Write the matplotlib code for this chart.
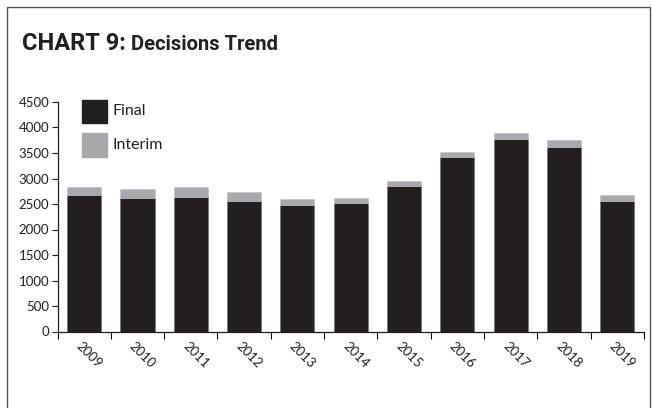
import numpy as np
import matplotlib.pyplot as plt
from matplotlib.patches import Rectangle
import matplotlib.transforms as mtransforms

plt.rcParams['font.family'] = ['Lato', 'DejaVu Sans']

years = ['2009', '2010', '2011', '2012', '2013', '2014', '2015', '2016', '2017', '2018', '2019']
final = [2680, 2627, 2647, 2555, 2476, 2529, 2849, 3419, 3773, 3616, 2555]
interim = [144, 158, 177, 176, 131, 98, 106, 106, 125, 131, 125]

c_final = '#231f20'
c_interim = '#a7a9ac'

W, H = 654, 408
fig = plt.figure(figsize=(W / 100, H / 100), dpi=100)

# outer frame (bottom edge runs off the page)
fig.patches.append(Rectangle((7 / W, -0.05), 643 / W, 1.05 - 7 / H, transform=fig.transFigure,
                             fill=False, edgecolor='#555555', linewidth=1.0))

# title in two parts, second part placed right after the first
t1 = fig.text(22 / W, 1 - 43 / H, 'CHART 9:', fontsize=17, fontweight='bold', family='Roboto',
              va='center', ha='left', color='#231f20')
fig.canvas.draw()
bb = t1.get_window_extent()
fig.text((bb.x1 + 5) / W, 1 - 44 / H, 'Decisions Trend', fontsize=14.5, fontweight='bold',
         family='Roboto', va='center', ha='left', color='#231f20')

ax = fig.add_axes([57.5 / W, 1 - 331.5 / H, (644 - 57.5) / W, (331.5 - 102) / H])
x = np.arange(len(years))
ax.bar(x, final, width=0.64, color=c_final, edgecolor='#6d6e71', linewidth=0.4, label='Final')
ax.bar(x, interim, bottom=final, width=0.64, color=c_interim, edgecolor='#bcbec0', linewidth=0.4,
       label='Interim')

ax.set_xlim(-0.5, len(years) - 0.5)
ax.set_ylim(0, 4500)
ax.set_yticks(np.arange(0, 4501, 500))
ax.tick_params(axis='y', direction='out', length=4, width=0.8, labelsize=9.5, pad=2, colors='#231f20')

# tick marks between categories, labels under each bar
ax.set_xticks(np.arange(-0.5, len(years), 1.0))
ax.set_xticklabels([])
ax.tick_params(axis='x', which='major', direction='out', length=5, width=0.8)
ax.set_xticks(x, minor=True)
ax.set_xticklabels(years, minor=True, rotation=-45, ha='center', va='top', fontsize=9.5, color='#231f20')
ax.tick_params(axis='x', which='minor', length=0, pad=6)
offset = mtransforms.ScaledTranslation(5 / 100, 0, fig.dpi_scale_trans)
for lab in ax.get_xticklabels(minor=True):
    lab.set_transform(lab.get_transform() + offset)

for s in ['top', 'right']:
    ax.spines[s].set_visible(False)
for s in ['left', 'bottom']:
    ax.spines[s].set_linewidth(0.9)
    ax.spines[s].set_color('#231f20')

# legend swatches
fig.patches.append(Rectangle((82 / W, 1 - 123 / H), 25 / W, 23 / H, transform=fig.transFigure,
                             color=c_final))
fig.patches.append(Rectangle((82 / W, 1 - 157 / H), 25 / W, 24 / H, transform=fig.transFigure,
                             color=c_interim))
fig.text(112 / W, 1 - 111 / H, 'Final', fontsize=11.5, va='center', ha='left', color='#231f20')
fig.text(112 / W, 1 - 145 / H, 'Interim', fontsize=11.5, va='center', ha='left', color='#231f20')

fig.savefig('out.png', dpi=100)
